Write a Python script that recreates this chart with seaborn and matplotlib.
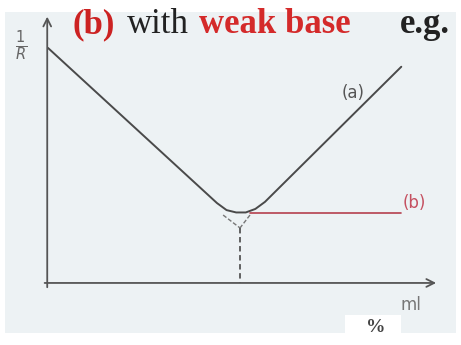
import numpy as np
import pandas as pd
import matplotlib
matplotlib.use("Agg")
import matplotlib.pyplot as plt
import seaborn as sns

# curve (a): 1/R vs ml of titrant, V shape with rounded bottom
vol_a = [0.0, 4.4, 4.65, 4.9, 5.15, 5.4, 5.65, 9.2]
cond_a = [10.0, 3.4, 3.1, 3.0, 3.0, 3.15, 3.45, 9.2]

# curve (b): flat after the end point
vol_b = [5.25, 9.2]
cond_b = [2.97, 2.97]

# extrapolation "Y" below the end point
vol_ext_left = [4.56, 5.0]
cond_ext_left = [2.89, 2.34]
vol_ext_right = [5.26, 5.0]
cond_ext_right = [2.89, 2.34]
end_point = 5.0
end_point_cond = 2.34

sns.set_theme(style="white")

fig = plt.figure(figsize=(4.61, 3.45), dpi=100)
fig.patch.set_facecolor("white")
ax = fig.add_axes([0, 0, 1, 1])
ax.set_facecolor("none")

# light paper background of the sketch
fig.patches.append(plt.Rectangle((5 / 461, 12 / 345), 451 / 461, 321 / 345,
                                 transform=fig.transFigure, facecolor="#edf2f4",
                                 edgecolor="none", zorder=-10))
fig.patches.append(plt.Rectangle((345 / 461, 0), 56 / 461, 30 / 345,
                                 transform=fig.transFigure, facecolor="white",
                                 edgecolor="none", zorder=-9))

line_col = "#4a4a4a"
red_col = "#b5404e"

df_a = pd.DataFrame({"ml": vol_a, "inv_r": cond_a})
df_b = pd.DataFrame({"ml": vol_b, "inv_r": cond_b})
sns.lineplot(data=df_a, x="ml", y="inv_r", sort=False, color=line_col, lw=1.4, ax=ax)
sns.lineplot(data=df_b, x="ml", y="inv_r", sort=False, color=red_col, lw=1.2, ax=ax)
ax.plot(vol_ext_left, cond_ext_left, color="#777777", lw=1.0, ls=(0, (3, 1.5)))
ax.plot(vol_ext_right, cond_ext_right, color="#777777", lw=1.0, ls=(0, (3, 1.5)))
ax.plot([end_point, end_point], [end_point_cond, 0], color="#555555", lw=1.3, ls=(0, (3, 2)))

# axes drawn as arrows
ax.annotate("", xy=(-0.02, 11.45), xytext=(-0.02, -0.3),
            arrowprops=dict(arrowstyle="->", color="#555555", lw=1.3, mutation_scale=14))
ax.annotate("", xy=(10.18, 0), xytext=(-0.16, 0),
            arrowprops=dict(arrowstyle="->", color="#555555", lw=1.3, mutation_scale=14))

ax.set_xlim(-1.25, 10.755)
ax.set_ylim(-2.64, 12.04)
ax.axis("off")

# hand written labels
ax.text(-0.7, 10.1, "$\\frac{1}{R}$", fontsize=15, color="#666666", ha="center", va="center")
ax.text(7.95, 8.1, "(a)", fontsize=12, color="#555555", ha="center", va="center",
        family="DejaVu Sans")
ax.text(9.55, 3.4, "(b)", fontsize=12, color="#c55060", ha="center", va="center",
        family="DejaVu Sans")
ax.text(9.45, -0.95, "ml", fontsize=12, color="#777777", ha="center", va="center")

# title pieces
fs = 25
fig.text(72 / 461, 1 - 33 / 345, "(b)", fontsize=fs, color="#cc2222", weight="bold",
         family="Liberation Serif", va="baseline")
fig.text(127 / 461, 1 - 33 / 345, "with", fontsize=fs, color="#222222",
         family="Liberation Serif", va="baseline")
fig.text(199 / 461, 1 - 33 / 345, "weak base", fontsize=fs, color="#d42a2a", weight="bold",
         family="Liberation Serif", va="baseline")
fig.text(400 / 461, 1 - 33 / 345, "e.g.", fontsize=fs, color="#222222", weight="bold",
         family="Liberation Serif", va="baseline")
fig.text(376 / 461, 1 - 332 / 345, "%", fontsize=14, color="#444444", weight="bold",
         family="Liberation Serif", ha="center", va="baseline")

fig.savefig("out.png", dpi=100, facecolor=fig.get_facecolor())
